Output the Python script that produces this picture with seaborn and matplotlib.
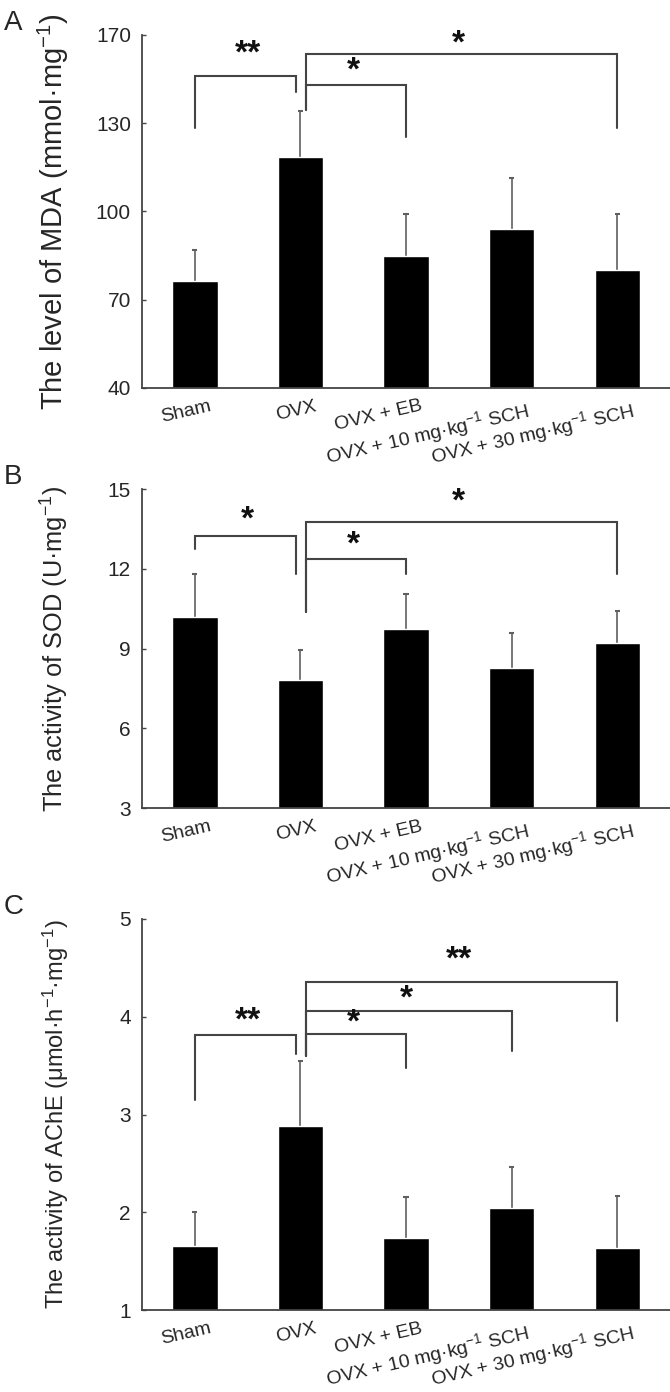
import numpy as np
import seaborn as sns
import matplotlib.pyplot as plt
import matplotlib.transforms as mtransforms

sns.set_style("white")
plt.rcParams['font.family'] = ['Liberation Sans', 'DejaVu Sans']
plt.rcParams['mathtext.fontset'] = 'custom'
plt.rcParams['mathtext.rm'] = 'Liberation Sans'
plt.rcParams['mathtext.it'] = 'Liberation Sans:italic'

# Groups
groups = ["Sham", "OVX", "OVX + EB",
          "OVX + 10 mg·kg$^{-1}$ SCH", "OVX + 30 mg·kg$^{-1}$ SCH"]

# Panel A: MDA (mean and top of error bar)
mda_mean = [76.2, 118.4, 84.7, 94.0, 80.2]
mda_upper = [87.0, 134.2, 99.2, 111.3, 99.2]
# Panel B: SOD
sod_mean = [10.2, 7.8, 9.75, 8.25, 9.2]
sod_upper = [11.8, 8.95, 11.05, 9.6, 10.4]
# Panel C: AChE
ache_mean = [1.65, 2.88, 1.74, 2.04, 1.63]
ache_upper = [2.0, 3.55, 2.16, 2.46, 2.17]

# significance brackets: (group a, group b, top, leg a bottom, leg b bottom, stars, star y)
mda_sig = [(0, 1, 145.9, 128.3, 140.6, "**", 153.5),
           (1, 2, 143.1, 134.6, 125.2, "*", 147.8),
           (1, 4, 153.6, 134.6, 128.3, "*", 157.0)]
sod_sig = [(0, 1, 13.25, 12.75, 11.79, "*", 13.85),
           (1, 2, 12.375, 10.375, 11.79, "*", 12.9),
           (1, 4, 13.75, 10.375, 11.79, "*", 14.5)]
ache_sig = [(0, 1, 3.81, 3.15, 3.62, "**", 3.96),
            (1, 2, 3.82, 3.6, 3.48, "*", 3.94),
            (1, 3, 4.06, 3.6, 3.65, "*", 4.18),
            (1, 4, 4.36, 3.6, 3.96, "**", 4.58)]

mda_ticks = [40, 70, 100, 130, 160]
mda_ticklabels = ["40", "70", "100", "130", "170"]
sod_ticks = [3, 6, 9, 12, 15]
ache_ticks = [1, 2, 3, 4, 5]

fig = plt.figure(figsize=(6.7, 13.92), dpi=100)
axA = fig.add_axes([0.212, 0.7213, 0.788, 0.2536])
axB = fig.add_axes([0.212, 0.4195, 0.788, 0.2292])
axC = fig.add_axes([0.212, 0.0589, 0.788, 0.2809])

panels = [
    (axA, mda_mean, mda_upper, mda_sig, (40, 160), mda_ticks, mda_ticklabels,
     "The level of MDA (mmol·mg$^{-1}$)", 21, "A"),
    (axB, sod_mean, sod_upper, sod_sig, (3, 15), sod_ticks, None,
     "The activity of SOD (U·mg$^{-1}$)", 18.3, "B"),
    (axC, ache_mean, ache_upper, ache_sig, (1, 5), ache_ticks, None,
     "The activity of AChE (μmol·h$^{-1}$·mg$^{-1}$)", 17, "C"),
]

line_col = "#444444"
err_col = "#606060"
shift = mtransforms.ScaledTranslation(0.14, 0, fig.dpi_scale_trans)

for ax, mean, upper, sig, ylim, ticks, ticklabels, ylabel, lsize, letter in panels:
    sns.barplot(x=groups, y=mean, color="black", saturation=1, width=0.43, ax=ax)
    xs = np.arange(len(groups))
    # upper-only error bars
    ax.vlines(xs, mean, upper, color=err_col, lw=1.2, zorder=0.5)
    ax.hlines(upper, xs - 0.025, xs + 0.025, color=err_col, lw=1.5, zorder=0.5)
    for a, b, top, ya, yb, stars, sy in sig:
        if a == 0 and b == 1:
            xa, xb = 0, 0.96
        else:
            xa, xb = 1.05, b
        ax.plot([xa, xa, xb, xb], [ya, top, top, yb], color=line_col, lw=1.5,
                solid_joinstyle="miter")
        ax.text((a + b) / 2, sy, stars, ha="center", va="center", fontsize=24,
                fontweight="bold", color="#111111")

    ax.set_xlim(-0.5, 4.5)
    ax.set_ylim(*ylim)
    ax.set_yticks(ticks)
    if ticklabels:
        ax.set_yticklabels(ticklabels)
    ax.tick_params(axis="y", direction="in", length=3, width=1, pad=8,
                   labelsize=15, color=line_col, left=True)
    ax.tick_params(axis="x", length=0, pad=7)
    ax.set_xticks(range(len(groups)))
    ax.set_xticklabels(groups, rotation=13, ha="right", rotation_mode="anchor",
                       fontsize=14)
    for lab in ax.get_xticklabels():
        lab.set_transform(lab.get_transform() + shift)
    ax.set_ylabel(ylabel, fontsize=lsize)
    ax.yaxis.set_label_coords(-0.135, 0.5)
    ax.set_xlabel("")
    sns.despine(ax=ax)
    for s in ["left", "bottom"]:
        ax.spines[s].set_color(line_col)
        ax.spines[s].set_linewidth(1.3)
    bbox = ax.get_position()
    fig.text(0.006, bbox.y1 + 0.018, letter, fontsize=20, va="top", ha="left")

fig.savefig("out.png", dpi=100)
